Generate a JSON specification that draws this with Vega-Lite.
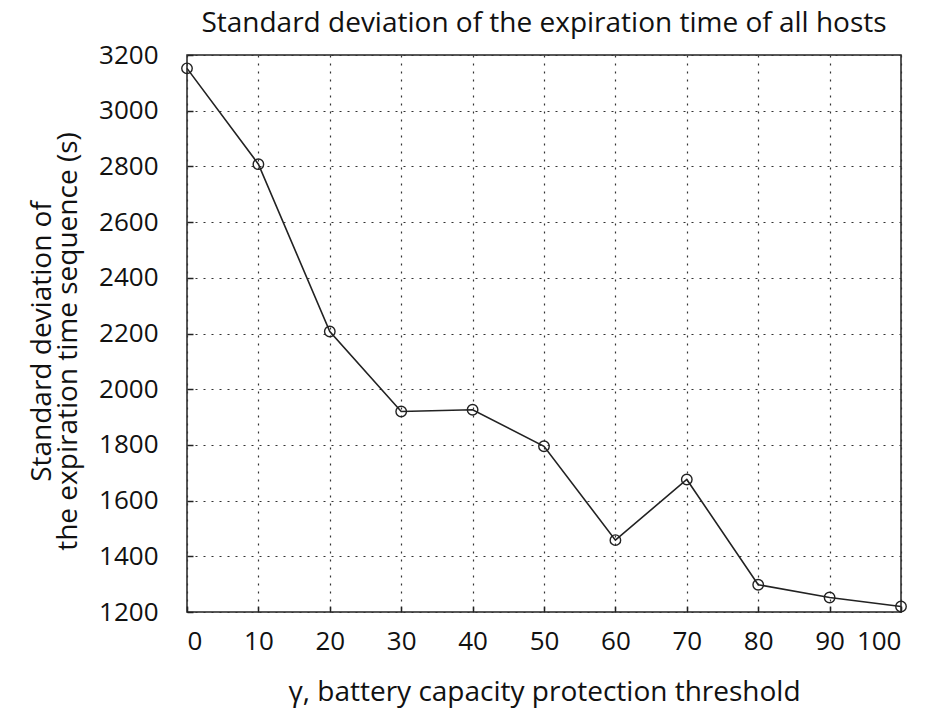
{
  "$schema": "https://vega.github.io/schema/vega-lite/v6.json",
  "autosize": {"type": "none"},
  "padding": {"left": 187, "top": 55, "right": 43, "bottom": 97},
  "width": 714,
  "height": 557,
  "background": "white",
  "title": {
    "text": "Standard deviation of the expiration time of all hosts",
    "font": "Open Sans",
    "fontSize": 28,
    "fontWeight": "normal",
    "color": "#111",
    "offset": 4,
    "anchor": "middle"
  },
  "config": {
    "view": {"stroke": "#222", "strokeWidth": 1.5},
    "axis": {
      "labelFont": "Open Sans",
      "labelFontSize": 26,
      "labelColor": "#111",
      "titleFont": "Open Sans",
      "titleFontSize": 28,
      "titleFontWeight": "normal",
      "titleColor": "#111",
      "grid": true,
      "gridColor": "#333",
      "gridDash": [2, 6],
      "gridWidth": 1.2,
      "domain": false,
      "ticks": true,
      "tickColor": "#222",
      "tickSize": -6,
      "tickWidth": 1.5
    }
  },
  "data": {
    "values": [
      {"gamma": 0, "sd": 3152},
      {"gamma": 10, "sd": 2808},
      {"gamma": 20, "sd": 2207},
      {"gamma": 30, "sd": 1920},
      {"gamma": 40, "sd": 1926},
      {"gamma": 50, "sd": 1795},
      {"gamma": 60, "sd": 1458},
      {"gamma": 70, "sd": 1676},
      {"gamma": 80, "sd": 1298},
      {"gamma": 90, "sd": 1252},
      {"gamma": 100, "sd": 1220}
    ]
  },
  "encoding": {
    "x": {
      "field": "gamma",
      "type": "quantitative",
      "scale": {"domain": [0, 100], "nice": false, "zero": false},
      "axis": {
        "values": [0, 10, 20, 30, 40, 50, 60, 70, 80, 90, 100],
        "format": "d",
        "title": "γ, battery capacity protection threshold",
        "labelPadding": 22,
        "titlePadding": 24
      }
    },
    "y": {
      "field": "sd",
      "type": "quantitative",
      "scale": {"domain": [1200, 3200], "nice": false, "zero": false},
      "axis": {
        "values": [1200, 1400, 1600, 1800, 2000, 2200, 2400, 2600, 2800, 3000, 3200],
        "format": "d",
        "title": ["Standard deviation of", "the expiration time sequence (s)"],
        "titleLineHeight": 26,
        "titleY": 286,
        "labelPadding": 35,
        "titlePadding": 16
      }
    }
  },
  "layer": [
    {"mark": {"type": "line", "color": "#222", "strokeWidth": 1.6, "clip": false}},
    {"mark": {"type": "point", "shape": "circle", "filled": false, "color": "#222", "strokeWidth": 1.4, "size": 110, "opacity": 1, "clip": false}}
  ]
}
